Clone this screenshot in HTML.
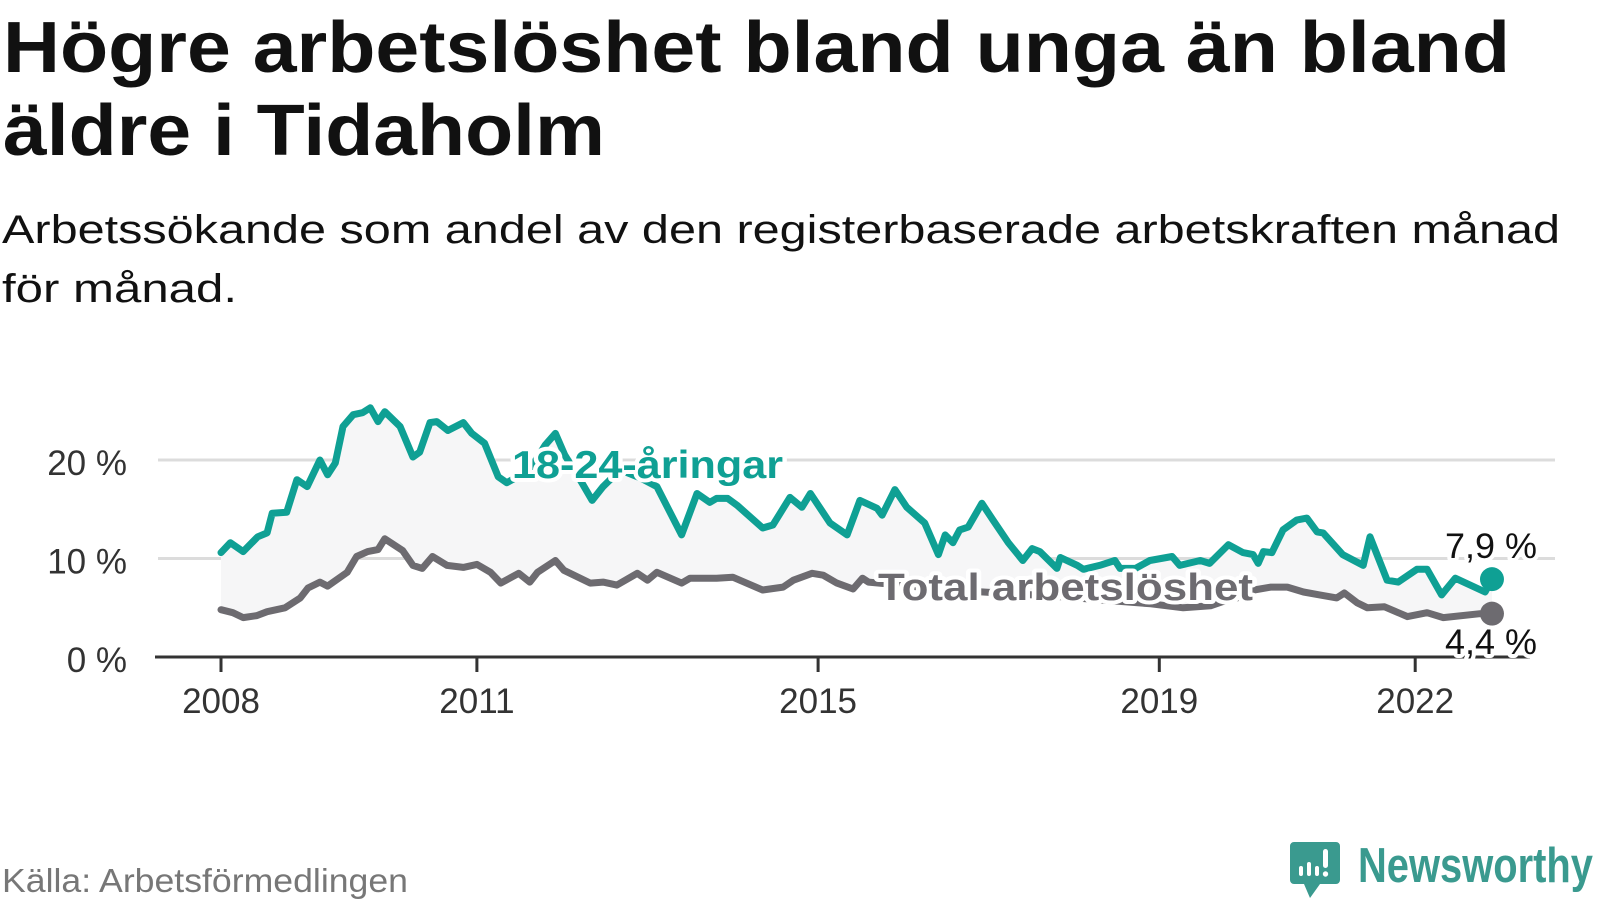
<!DOCTYPE html>
<html><head><meta charset="utf-8"><style>
body{margin:0;background:#fff;}
svg{display:block;font-family:"Liberation Sans",sans-serif;}
.halo{paint-order:stroke;stroke:#fff;stroke-width:8px;stroke-linejoin:round;}
</style></head><body>
<svg id="chart" width="1600" height="900" viewBox="0 0 1600 900" xmlns="http://www.w3.org/2000/svg">
<text x="3" y="72" font-size="72" font-weight="bold" fill="#111" textLength="1507" lengthAdjust="spacingAndGlyphs">Högre arbetslöshet bland unga än bland</text>
<text x="3" y="155" font-size="72" font-weight="bold" fill="#111" textLength="602" lengthAdjust="spacingAndGlyphs">äldre i Tidaholm</text>
<text x="2" y="243" font-size="40" fill="#111" textLength="1558" lengthAdjust="spacingAndGlyphs">Arbetssökande som andel av den registerbaserade arbetskraften månad</text>
<text x="2" y="302" font-size="40" fill="#111" textLength="235" lengthAdjust="spacingAndGlyphs">för månad.</text>
<g id="grid"></g>
<g id="area"></g>
<g id="lines"></g>
<g id="axis"></g>
<g id="labels"></g>
<text x="2" y="892" font-size="33" fill="#777" textLength="406" lengthAdjust="spacingAndGlyphs">Källa: Arbetsförmedlingen</text>
<g>
<path d="M1294,842 h42 a4,4 0 0 1 4,4 v34 a4,4 0 0 1 -4,4 h-16 l-10,14 l-6,-14 h-10 a4,4 0 0 1 -4,-4 v-34 a4,4 0 0 1 4,-4z" fill="#3a9a8f"/>
<rect x="1299" y="866" width="4" height="10" rx="2" fill="#fff"/>
<rect x="1307" y="862" width="4" height="14" rx="2" fill="#fff"/>
<rect x="1315" y="866" width="4" height="10" rx="2" fill="#fff"/>
<rect x="1323" y="849" width="5" height="19" rx="2.5" fill="#fff"/>
<circle cx="1325.5" cy="874" r="2.7" fill="#fff"/>
<text x="1358" y="882" font-size="49" font-weight="bold" fill="#3a9a8f" textLength="235" lengthAdjust="spacingAndGlyphs">Newsworthy</text>
</g>
</svg>
<script>
const yTicks=[0,10,20];
const yTickLabels=["0 %","10 %","20 %"];
const xTicks=[2008,2011,2015,2019,2022];
const youthT=[2008.0,2008.11,2008.26,2008.43,2008.54,2008.6,2008.77,2008.89,2009.01,2009.16,2009.25,2009.34,2009.43,2009.55,2009.66,2009.75,2009.84,2009.92,2010.1,2010.25,2010.33,2010.45,2010.53,2010.66,2010.84,2010.94,2011.09,2011.25,2011.35,2011.62,2011.8,2011.92,2012.03,2012.21,2012.35,2012.48,2012.68,2012.91,2013.11,2013.4,2013.58,2013.73,2013.81,2013.94,2014.05,2014.35,2014.47,2014.67,2014.81,2014.91,2015.14,2015.34,2015.49,2015.69,2015.75,2015.9,2016.04,2016.25,2016.41,2016.49,2016.58,2016.66,2016.76,2016.92,2017.05,2017.23,2017.4,2017.51,2017.6,2017.8,2017.84,2018.04,2018.11,2018.3,2018.48,2018.54,2018.72,2018.89,2019.15,2019.24,2019.48,2019.59,2019.81,2019.98,2020.1,2020.16,2020.22,2020.32,2020.45,2020.61,2020.73,2020.85,2020.92,2021.15,2021.39,2021.47,2021.67,2021.8,2022.02,2022.14,2022.31,2022.47,2022.82,2022.9];
const youthV=[10.6,11.6,10.7,12.2,12.6,14.6,14.7,18.0,17.3,20.0,18.5,19.7,23.4,24.6,24.8,25.3,23.9,24.9,23.4,20.3,20.8,23.8,23.9,23.0,23.8,22.7,21.7,18.3,17.7,19.0,21.5,22.7,20.5,18.0,15.9,17.3,19.0,18.2,17.3,12.4,16.6,15.7,16.1,16.1,15.4,13.1,13.4,16.2,15.2,16.6,13.6,12.4,15.9,15.1,14.4,17.0,15.2,13.6,10.4,12.4,11.6,12.9,13.2,15.6,13.9,11.6,9.8,11.0,10.7,9.0,10.1,9.3,8.9,9.3,9.8,9.0,9.0,9.8,10.2,9.3,9.8,9.5,11.4,10.6,10.4,9.5,10.7,10.6,12.9,13.9,14.1,12.7,12.6,10.4,9.3,12.2,7.8,7.6,8.9,8.9,6.3,8.0,6.6,7.9];
const totalT=[2008.0,2008.14,2008.26,2008.42,2008.54,2008.75,2008.93,2009.02,2009.16,2009.25,2009.48,2009.59,2009.72,2009.84,2009.92,2010.13,2010.25,2010.36,2010.48,2010.65,2010.84,2011.0,2011.16,2011.28,2011.49,2011.62,2011.71,2011.92,2012.02,2012.33,2012.48,2012.64,2012.88,2013.0,2013.11,2013.4,2013.5,2013.81,2014.0,2014.35,2014.59,2014.71,2014.93,2015.06,2015.22,2015.41,2015.52,2015.59,2015.96,2016.55,2017.13,2017.72,2018.31,2018.9,2019.28,2019.6,2019.8,2019.96,2020.11,2020.31,2020.5,2020.69,2020.88,2021.08,2021.17,2021.32,2021.44,2021.64,2021.91,2022.14,2022.33,2022.76,2022.9];
const totalV=[4.8,4.5,4.0,4.2,4.6,5.0,6.0,7.0,7.6,7.2,8.6,10.2,10.7,10.9,12.0,10.8,9.3,9.0,10.2,9.3,9.1,9.4,8.6,7.5,8.5,7.6,8.6,9.8,8.8,7.5,7.6,7.3,8.5,7.8,8.6,7.5,8.0,8.0,8.1,6.8,7.1,7.8,8.5,8.3,7.5,6.9,8.0,7.6,7.3,6.8,6.5,6.2,5.8,5.4,5.0,5.2,5.8,6.1,6.8,7.1,7.1,6.6,6.3,6.0,6.5,5.5,5.0,5.1,4.1,4.5,4.0,4.4,4.4];
const endLabels=["7,9 %","4,4 %"];

const NS="http://www.w3.org/2000/svg";
const X=t=>221+(t-2008)*85.3;
const Y=v=>657-v*9.85;
function mk(tag,attrs,parent){const e=document.createElementNS(NS,tag);for(const k in attrs)e.setAttribute(k,attrs[k]);parent.appendChild(e);return e;}
const grid=document.getElementById('grid'),area=document.getElementById('area'),lines=document.getElementById('lines'),axis=document.getElementById('axis'),labels=document.getElementById('labels');
yTicks.forEach((v,i)=>{
  if(v>0){const g=mk('line',{x1:158,x2:1555,y1:Y(v),y2:Y(v),stroke:'#dcdcdc','stroke-width':3},grid);
  
  }
  const t=mk('text',{x:127,y:Y(v)+15,'font-size':35,fill:'#333','text-anchor':'end'},grid);
  
  
  t.textContent=yTickLabels[i];
});
const pts=(T,V)=>T.map((t,i)=>X(t).toFixed(1)+','+Y(V[i]).toFixed(1));
const ap=mk('polygon',{points:pts(youthT,youthV).concat(pts(totalT,totalV).reverse()).join(' '),fill:'#f6f6f7'},area);


const tl=mk('polyline',{points:pts(totalT,totalV).join(' '),fill:'none',stroke:'#6d6b70','stroke-width':7,'stroke-linejoin':'round','stroke-linecap':'round'},lines);


const yl=mk('polyline',{points:pts(youthT,youthV).join(' '),fill:'none',stroke:'#0fa094','stroke-width':7,'stroke-linejoin':'round','stroke-linecap':'round'},lines);


const yd=mk('circle',{cx:X(youthT[youthT.length-1]),cy:Y(youthV[youthV.length-1]),r:12,fill:'#0fa094'},lines);


const td=mk('circle',{cx:X(totalT[totalT.length-1]),cy:Y(totalV[totalV.length-1]),r:12,fill:'#6d6b70'},lines);


const al=mk('line',{x1:155,x2:1530,y1:657,y2:657,stroke:'#333','stroke-width':3},axis);


xTicks.forEach(t=>{
  const k=mk('line',{x1:X(t),x2:X(t),y1:657,y2:672,stroke:'#333','stroke-width':3},axis);
  
  
  const l=mk('text',{x:X(t),y:713,'font-size':35,fill:'#333','text-anchor':'middle'},axis);
  
  
  l.textContent=String(t);
});
const a=mk('text',{class:'halo',x:512,y:478,'font-size':39,'font-weight':'bold',fill:'#0fa094',textLength:271,lengthAdjust:'spacingAndGlyphs'},labels);


a.textContent='18-24-åringar';
const b=mk('text',{class:'halo',x:878,y:600,'font-size':38,'font-weight':'bold',fill:'#6d6b70',textLength:375,lengthAdjust:'spacingAndGlyphs'},labels);


b.textContent='Total arbetslöshet';
const c=mk('text',{class:'halo',x:1445,y:558,'font-size':35,fill:'#111',textLength:92,lengthAdjust:'spacingAndGlyphs'},labels);


c.textContent=endLabels[0];
const d=mk('text',{class:'halo',x:1445,y:654,'font-size':35,fill:'#111',textLength:92,lengthAdjust:'spacingAndGlyphs'},labels);


d.textContent=endLabels[1];
</script>
</body></html>
